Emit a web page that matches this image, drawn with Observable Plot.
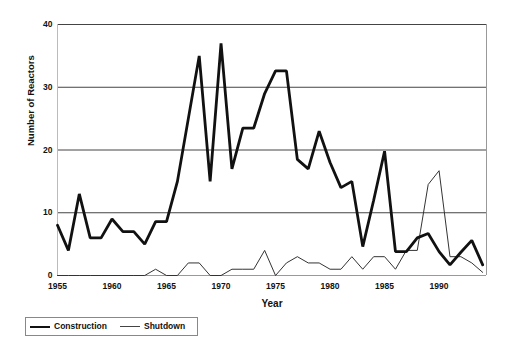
<!DOCTYPE html>
<html><head><meta charset="utf-8">
<script src="https://cdn.jsdelivr.net/npm/d3@7"></script>
<script src="https://cdn.jsdelivr.net/npm/@observablehq/plot@0.6"></script>
<style>
body{margin:0;background:#fff;font-family:"Liberation Sans",Arial,sans-serif;}
#wrap{position:relative;width:527px;height:353px;}
#legend{position:absolute;left:25px;top:317px;width:171px;height:17px;border:1px solid #888;font-weight:bold;font-size:8.5px;color:#111;}
#legend .it{position:absolute;top:0;height:17px;line-height:17px;}
#legend .sw{position:absolute;top:8px;width:20px;background:#111;}
</style></head>
<body><div id="wrap"><div id="chart"></div>
<div id="legend">
<div class="it" style="left:4px"><span class="sw" style="height:2px;top:7.5px"></span><span style="margin-left:24px">Construction</span></div>
<div class="it" style="left:94px"><span class="sw" style="height:1px;background:#444"></span><span style="margin-left:24px">Shutdown</span></div>
</div></div>
<script>
const years = d3.range(1955, 1995);
const construction = [8,4,13,6,6,9,7,7,5,8.6, 8.6,15,25,35,15,37,17,23.5,23.5,29, 32.6,32.6,18.5,17,23,18,14,15,4.6,12, 19.8,3.8,3.8,6,6.7,3.8,1.7,3.7,5.6,1.7];
const shutdown = [0,0,0,0,0,0,0,0,0,1, 0,0,2,2,0,0,1,1,1,4, 0,2,3,2,2,1,1,3,1,3, 3,1,4,4,14.5,16.7,3,3,2,0.5];
const yTicks = [0,10,20,30,40];
const xTicks = [1955,1960,1965,1970,1975,1980,1985,1990];

const cons = years.map((y,i)=>({year:y, v:construction[i]}));
const shut = years.map((y,i)=>({year:y, v:shutdown[i]}));

const chart = Plot.plot({
  width:527, height:312,
  marginTop:24, marginBottom:37, marginLeft:57, marginRight:41,
  style:{fontFamily:"Liberation Sans, Arial, sans-serif", fontWeight:"bold", fontSize:"8.5px", color:"#111", background:"#fff"},
  x:{domain:[1955,1994.35], ticks:xTicks, tickFormat:d=>String(d), tickSize:0, tickPadding:7, label:null},
  y:{domain:[0,40], ticks:yTicks, tickSize:0, tickPadding:5, label:null},
  marks:[
    Plot.ruleY([10,20,30,40], {stroke:"#444", strokeWidth:1}),
    Plot.ruleY([0], {stroke:"#999", strokeWidth:1}),
    Plot.ruleX([1955], {stroke:"#bbb", strokeWidth:1}),
    Plot.ruleX([1994.35], {stroke:"#999", strokeWidth:1}),
    Plot.line(shut, {x:"year", y:"v", stroke:"#333", strokeWidth:1}),
    Plot.line(cons, {x:"year", y:"v", stroke:"#111", strokeWidth:2.8, strokeLinejoin:"miter"}),
    Plot.text(["Year"], {frameAnchor:"bottom", dy:31, fontSize:10, fontWeight:"bold", fill:"#111"}),
    Plot.text(["Number of Reactors"], {frameAnchor:"left", dx:-27, dy:-4, rotate:-90, fontSize:9.5, fontWeight:"bold", fill:"#111"})
  ]
});
document.getElementById("chart").appendChild(chart);
</script></body></html>
